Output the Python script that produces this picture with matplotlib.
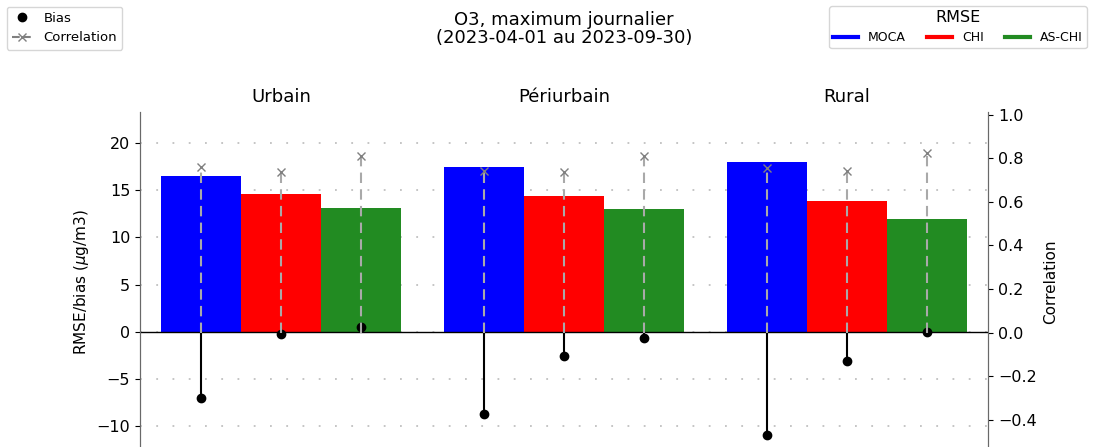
import matplotlib
matplotlib.use('Agg')
import matplotlib.pyplot as plt
import numpy as np
from matplotlib.lines import Line2D

#%% data

zones = ['Urbain', 'Périurbain', 'Rural']
models = ['MOCA', 'CHI', 'AS-CHI']
colors = ['blue', 'red', 'forestgreen']

rmse = {'MOCA':   [16.5, 17.45, 18.0],
        'CHI':    [14.6, 14.4, 13.9],
        'AS-CHI': [13.1, 13.0, 11.95]}
bias = {'MOCA':   [-7.0, -8.7, -10.9],
        'CHI':    [-0.2, -2.5, -3.05],
        'AS-CHI': [0.55, -0.6, -0.05]}
corr = {'MOCA':   [0.76, 0.743, 0.754],
        'CHI':    [0.738, 0.738, 0.742],
        'AS-CHI': [0.81, 0.809, 0.826]}

#%% plot

fig = plt.figure(figsize=(10.93, 4.47), dpi=100)
ax = fig.add_axes([0.128, -0.011, 0.776, 0.761])
ax2 = ax.twinx()

w = 0.85/3
x = np.arange(len(zones))

for k, m in enumerate(models):
    xx = x + (k-1)*w
    ax.bar(xx, rmse[m], width=w, color=colors[k], zorder=2)
    ax.vlines(xx, 0, bias[m], color='k', lw=1.5, zorder=4)
    ax.plot(xx, bias[m], 'o', color='k', ms=6, zorder=5)
    ax2.vlines(xx, 0, corr[m], color='darkgray', lw=1.5, linestyles=(0, (5, 3)), zorder=4)
    ax2.plot(xx, corr[m], 'x', color='gray', ms=6, zorder=5)

ax.axhline(0, color='k', lw=1, zorder=3)
ax.set_xlim(-0.5, 2.5)
ax.set_ylim(-12.7, 23.3)
ax2.set_ylim(-0.547, 1.013)
ax.set_yticks([-10, -5, 0, 5, 10, 15, 20])
ax2.set_yticks([-0.4, -0.2, 0.0, 0.2, 0.4, 0.6, 0.8, 1.0])
ax.set_xticks([])
ax.yaxis.grid(True, color='silver', linestyle=(0, (1, 8)), lw=1.3, zorder=3)

for a in [ax, ax2]:
    a.spines['top'].set_visible(False)
    a.spines['bottom'].set_visible(False)
    a.spines['left'].set_color('dimgray')
    a.spines['right'].set_color('dimgray')
    a.tick_params(labelsize=11.5)

ax.set_ylabel('RMSE/bias ($\\mu$g/m3)', fontsize=11)
ax2.set_ylabel('Correlation', fontsize=11, labelpad=5)

for i, z in enumerate(zones):
    ax.text(i, 24.9, z, ha='center', va='center', fontsize=13)

fig.text(0.516, 0.935, 'O3, maximum journalier\n(2023-04-01 au 2023-09-30)',
         ha='center', va='center', fontsize=13, linespacing=1.05)

h1 = [Line2D([], [], color='k', marker='o', ls='none', ms=6),
      Line2D([], [], color='gray', marker='x', ls='--', ms=6)]
fig.legend(h1, ['Bias', 'Correlation'], loc='upper left',
           bbox_to_anchor=(0.0, 1.0), borderaxespad=0.5,
           fontsize=9.5, handlelength=1.6)

h2 = [Line2D([], [], color=c, lw=3) for c in colors]
fig.legend(h2, models, loc='upper right', bbox_to_anchor=(1.0, 1.0),
           borderaxespad=0.5, ncol=3, title='RMSE', fontsize=9,
           title_fontsize=11.5, handlelength=2.0, columnspacing=1.7,
           borderpad=0.3)

plt.savefig('out.png', dpi=100)
